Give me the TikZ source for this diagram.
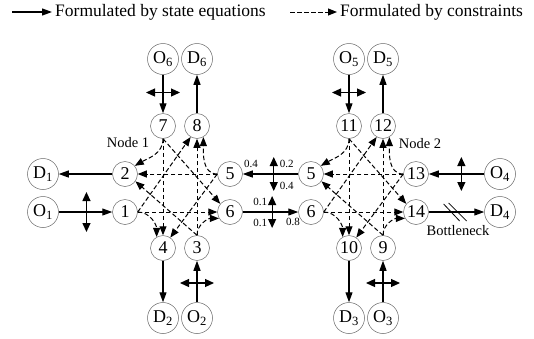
\documentclass[tikz,border=0pt]{standalone}
\usepackage{fontspec}
\setmainfont{Liberation Serif}
\usetikzlibrary{positioning,arrows.meta,calc}

\tikzset{
    num/.style={circle, draw=black!60, line width=0.5pt, minimum size=25pt, inner sep=0pt, font=\fontsize{18}{20}\selectfont},
    od/.style={num, minimum size=31pt},
    flow/.style={-{Triangle[length=10pt,width=7pt]}, line width=1.2pt},
    turn/.style={-{Triangle[length=9pt,width=7pt]}, line width=1pt, dash pattern=on 4.5pt off 2.5pt},
    dbl/.style={{Triangle[length=9pt,width=8pt]}-{Triangle[length=9pt,width=8pt]}, line width=1.2pt},
    ratio/.style={font=\fontsize{11}{12}\selectfont, inner sep=0pt},
    tag/.style={font=\fontsize{14.5}{16}\selectfont, inner sep=0pt},
}

\begin{document}
\begin{tikzpicture}[x=1pt, y=1pt]
\useasboundingbox (0,0) rectangle (534,-338);

% legend
\coordinate (s1) at (12,-12);
\coordinate (s2) at (290,-12);
\node[anchor=west, inner sep=3pt, font=\fontsize{17.5}{20}\selectfont] (lg1) at (52,-12) {Formulated by state equations};
\node[anchor=west, inner sep=3pt, font=\fontsize{17.5}{20}\selectfont] (lg2) at (337,-12) {Formulated by constraints};
\draw[flow] (s1) -- (lg1.west);
\draw[turn] (s2) -- (lg2.west);

% intersection 1
\node[num] (n7) at (163,-126) {7};
\node[num] (n8) at (197,-126) {8};
\node[num] (n2) at (125,-174) {2};
\node[num] (n5l) at (230,-174) {5};
\node[num] (n1) at (125,-212) {1};
\node[num] (n6l) at (230,-212) {6};
\node[num] (n4) at (163,-248) {4};
\node[num] (n3) at (197,-248) {3};
\node[tag] (nd1) at (128,-143) {Node 1};

% intersection 2
\node[num] (n11) at (349,-126) {11};
\node[num] (n12) at (383,-126) {12};
\node[num] (n5r) at (311,-174) {5};
\node[num] (n13) at (416,-174) {13};
\node[num] (n6r) at (311,-212) {6};
\node[num] (n14) at (416,-212) {14};
\node[num] (n10) at (349,-248) {10};
\node[num] (n9) at (383,-248) {9};
\node[tag] (nd2) at (420,-144) {Node 2};

% origins and destinations
\node[od] (O6) at (163,-59) {O\textsubscript{6}};
\node[od] (D6) at (197,-59) {D\textsubscript{6}};
\node[od] (D1) at (43,-174) {D\textsubscript{1}};
\node[od] (O1) at (43,-212) {O\textsubscript{1}};
\node[od] (D2) at (163,-318) {D\textsubscript{2}};
\node[od] (O2) at (197,-318) {O\textsubscript{2}};
\node[od] (O5) at (349,-59) {O\textsubscript{5}};
\node[od] (D5) at (383,-59) {D\textsubscript{5}};
\node[od] (O4) at (500,-174) {O\textsubscript{4}};
\node[od] (D4) at (500,-212) {D\textsubscript{4}};
\node[od] (D3) at (349,-318) {D\textsubscript{3}};
\node[od] (O3) at (383,-318) {O\textsubscript{3}};

% state equations
\draw[flow] (O6) -- (n7);
\draw[flow] (n8) -- (D6);
\draw[flow] (n2) -- (D1);
\draw[flow] (O1) -- (n1);
\draw[flow] (n4) -- (D2);
\draw[flow] (O2) -- (n3);
\draw[flow] (n5r) -- (n5l);
\draw[flow] (n6l) -- (n6r);
\draw[flow] (O5) -- (n11);
\draw[flow] (n12) -- (D5);
\draw[flow] (O4) -- (n13);
\draw[flow] (n14) -- (D4);
\draw[flow] (n10) -- (D3);
\draw[flow] (O3) -- (n9);

% split ratios
\draw[dbl] ($(O6)!0.5!(n7)$) +(-17,0) -- +(17,0);
\draw[dbl] ($(O2)!0.5!(n3)$) +(-17,0) -- +(17,0);
\draw[dbl] ($(O5)!0.5!(n11)$) +(-17,0) -- +(17,0);
\draw[dbl] ($(O3)!0.5!(n9)$) +(-17,0) -- +(17,0);
\draw[dbl] ($(O1)!0.53!(n1)$) +(0,20) -- +(0,-20);
\draw[dbl] ($(O4)!0.46!(n13)$) +(0,17) -- +(0,-17);
\coordinate (c5) at ($(n5l)!0.54!(n5r)$);
\coordinate (c6) at ($(n6l)!0.52!(n6r)$);
\draw[dbl] (c5) +(0,17) -- +(0,-17);
\draw[dbl] (c6) +(0,16) -- +(0,-16);
\node[ratio] (r1) at ($(n5l)+(21,10)$) {0.4};
\node[ratio] (r2) at ($(c5)+(13,10)$) {0.2};
\node[ratio] (r3) at ($(c5)+(13,-12)$) {0.4};
\node[ratio] (r4) at ($(c6)+(-12,10)$) {0.1};
\node[ratio] (r5) at ($(c6)+(-12,-11)$) {0.1};
\node[ratio] (r6) at ($(n6r)+(-18,-10)$) {0.8};

% bottleneck
\coordinate (bn) at ($(n14)!0.46!(D4)$);
\draw[line width=0.8pt] (bn) ++(-11,8) -- ++(16,-17);
\draw[line width=0.8pt] (bn) ++(-6,9) -- ++(18,-18);
\node[tag] (btl) at (458,-231) {Bottleneck};

% constraints, node 1
\draw[turn] (n7.south) to[out=-90,in=30] (n2.40);
\draw[turn] (n7.south) -- (n4.north);
\draw[turn] (n7.south) -- (n6l.140);
\draw[turn] (n5l.west) -- (n2.east);
\draw[turn] (n5l.west) to[out=180,in=-90] (n8.-60);
\draw[turn] (n5l.west) -- (n4.55);
\draw[turn] (n1.east) -- (n6l.west);
\draw[turn] (n1.east) to[out=0,in=90] (n4.120);
\draw[turn] (n1.east) -- (n8.-120);
\draw[turn] (n3.north) -- (n8.south);
\draw[turn] (n3.north) to[out=90,in=180] (n6l.210);
\draw[turn] (n3.north) -- (n2.-35);

% constraints, node 2
\draw[turn] (n11.south) to[out=-90,in=30] (n5r.40);
\draw[turn] (n11.south) -- (n10.north);
\draw[turn] (n11.south) -- (n14.140);
\draw[turn] (n13.west) -- (n5r.east);
\draw[turn] (n13.west) to[out=180,in=-90] (n12.-60);
\draw[turn] (n13.west) -- (n10.55);
\draw[turn] (n6r.east) -- (n14.west);
\draw[turn] (n6r.east) to[out=0,in=90] (n10.120);
\draw[turn] (n6r.east) -- (n12.-120);
\draw[turn] (n9.north) -- (n12.south);
\draw[turn] (n9.north) to[out=90,in=180] (n14.210);
\draw[turn] (n9.north) -- (n5r.-35);
\end{tikzpicture}
\end{document}
